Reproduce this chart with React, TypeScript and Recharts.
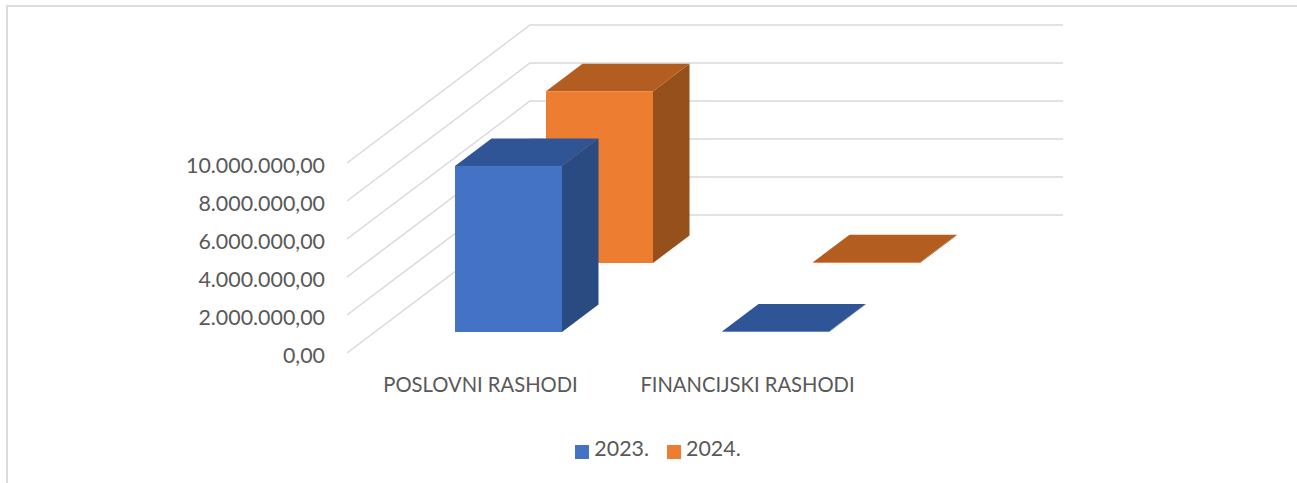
import { BarChart, Bar, XAxis, YAxis, CartesianGrid, Legend } from "recharts";

const categories = ["POSLOVNI RASHODI", "FINANCIJSKI RASHODI"];
const values2023 = [8740000, 30000];
const values2024 = [9040000, 45000];
const yTicks = [0, 2000000, 4000000, 6000000, 8000000, 10000000];

const data = categories.map((name, i) => ({
    name,
    y2023: values2023[i],
    y2024: values2024[i],
}));

const TEXT = "#595959";
const FONT = "Lato, sans-serif";

// wall/floor depth of the fake 3d box, and the depth of one column
const WALL_DX = 183;
const WALL_DY = -138;
const COL_DX = 36.5;
const COL_DY = -27.5;
const RIGHT_END = 1063;

const formatMoney = (v: number) =>
    v.toLocaleString("de-DE", { minimumFractionDigits: 2, maximumFractionDigits: 2 });

function WallLine(props: any) {
    const { x1, y1, y2 } = props;
    const bx = x1 + WALL_DX;
    const by = y2 + WALL_DY;
    return (
        <polyline
            points={`${x1},${y1} ${bx},${by} ${RIGHT_END},${by}`}
            fill="none"
            stroke="#d9d9d9"
            strokeWidth={1.5}
        />
    );
}

function makeColumn(shiftX: number, shiftY: number, topFill: string, sideFill: string) {
    return function Column(props: any) {
        const { x, y, width, height, fill } = props;
        const l = x + shiftX;
        const t = y + shiftY;
        const r = l + width;
        const b = t + height;
        return (
            <g>
                <polygon
                    points={`${r},${t} ${r + COL_DX},${t + COL_DY} ${r + COL_DX},${b + COL_DY} ${r},${b}`}
                    fill={sideFill}
                />
                <polygon
                    points={`${l},${t} ${l + COL_DX},${t + COL_DY} ${r + COL_DX},${t + COL_DY} ${r},${t}`}
                    fill={topFill}
                />
                <rect x={l} y={t} width={width} height={height} fill={fill} />
            </g>
        );
    };
}

const BlueColumn = makeColumn(28, -21, "#2f5597", "#2a4a82");
const OrangeColumn = makeColumn(119, -90, "#b45d21", "#96501b");

export default function App() {
    return (
        <div style={{ position: "absolute", left: 0, top: 0, width: 1297, height: 483, background: "#fff" }}>
            <div
                style={{
                    position: "absolute",
                    left: 6,
                    top: 5,
                    right: 0,
                    bottom: 0,
                    borderTop: "2px solid #dcdcdc",
                    borderLeft: "2px solid #dcdcdc",
                }}
            />
            <BarChart
                width={1297}
                height={483}
                data={data}
                barSize={107}
                barGap={-107}
                margin={{ top: 163, right: 416, left: 0, bottom: 30 }}
                style={{ position: "absolute", left: 0, top: 0, fontFamily: FONT }}
            >
                <CartesianGrid vertical={false} horizontal={(p: any) => <WallLine key={p.key} {...p} />} />
                <XAxis
                    dataKey="name"
                    height={56}
                    axisLine={false}
                    tickLine={false}
                    tickMargin={19}
                    tick={{ fontSize: 20.2, fill: TEXT }}
                    interval={0}
                />
                <YAxis
                    width={347}
                    domain={[0, 10000000]}
                    ticks={yTicks}
                    axisLine={false}
                    tickLine={false}
                    tickMargin={16}
                    tickFormatter={formatMoney}
                    tick={{ fontSize: 21.4, fill: TEXT, dy: 2 }}
                />
                <Legend
                    height={44}
                    iconType="square"
                    iconSize={14}
                    wrapperStyle={{ left: 567, top: 435, width: 200 }}
                    formatter={(value: string) => (
                        <span style={{ color: TEXT, fontSize: 21.4, marginLeft: 1, marginRight: 8 }}>{value}</span>
                    )}
                />
                {/* orange goes first so the blue column sits in front of it */}
                <Bar dataKey="y2024" name="2024." fill="#ed7d31" shape={OrangeColumn} isAnimationActive={false} />
                <Bar dataKey="y2023" name="2023." fill="#4472c4" shape={BlueColumn} isAnimationActive={false} />
            </BarChart>
        </div>
    );
}
